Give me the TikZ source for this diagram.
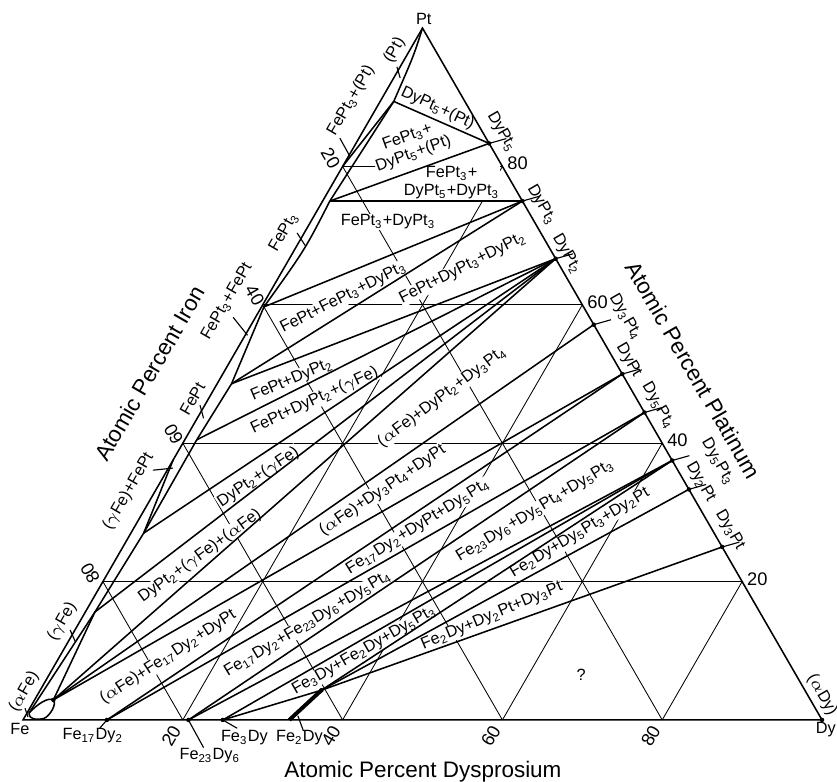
\documentclass[tikz,border=0pt]{standalone}
\usepackage{fontspec}
\setmainfont{Liberation Sans}
\newcommand{\ind}[1]{\textsubscript{#1}}

\begin{document}
\begin{tikzpicture}[x={(0.1cm,0cm)},y={(0.05cm,0.0866cm)},
  grille/.style={line width=0.3pt},
  phase/.style={line width=0.55pt},
  fin/.style={line width=0.4pt},
  etiq/.style={font=\fontsize{5.8}{6.4}\selectfont,fill=white,inner sep=0.3pt},
  nom/.style={font=\fontsize{5.8}{6.4}\selectfont,inner sep=0.3pt},
  grad/.style={font=\fontsize{6.5}{7}\selectfont,inner sep=0.3pt},
  titre/.style={font=\fontsize{8}{9.6}\selectfont}]
\useasboundingbox (-0.288cm,-0.776cm) rectangle (10.188cm,9.011cm);

% sommets (x = %Dy, y = %Pt)
\coordinate (Fe) at (0,0);
\coordinate (Dy) at (100,0);
\coordinate (Pt) at (0,100);

% composés côté Dy-Pt
\coordinate (DyPt5) at (16.67,83.33);
\coordinate (DyPt3) at (25,75);
\coordinate (DyPt2) at (33.33,66.67);
\coordinate (Dy3Pt4) at (42.86,57.14);
\coordinate (DyPt) at (50,50);
\coordinate (Dy5Pt4) at (55.56,44.44);
\coordinate (Dy5Pt3) at (62.5,37.5);
\coordinate (Dy2Pt) at (66.67,33.33);
\coordinate (Dy3Pt) at (75,25);

% composés côté Fe-Dy
\coordinate (Fe17Dy2) at (10.5,0);
\coordinate (Fe23Dy6) at (20.7,0);
\coordinate (Fe3Dy) at (25,0);
\coordinate (Fe2Dy) at (33.33,0);
\coordinate (Fe2DyB) at (35.2,4.3);

% limites des phases côté Fe-Pt
\coordinate (ptA) at (1.7,89.4);
\coordinate (ptB) at (0.9,75);
\coordinate (ptC) at (0.3,59.7);
\coordinate (ptE) at (1.8,48.6);
\coordinate (ptF) at (1.5,40.5);
\coordinate (ptG) at (1.6,27);
\coordinate (ptH) at (1.2,15.6);
\coordinate (ptV) at (2.35,2.9);
\coordinate (ptL) at (0.25,1);

% grille
\foreach \v in {20,40,60,80} {
  \draw[grille] (0,\v) -- ({100-\v},\v);
  \draw[grille] (\v,0) -- (\v,{100-\v});
  \draw[grille] (\v,0) -- (0,\v);
}

% graduations
\foreach \v in {20,40,60,80} {
  \node[grad,rotate=60] (gD\v) at ({\v-0.3},-2.3) {\v};
  \node[grad] (gP\v) at ({101.7-\v},{\v+0.4}) {\v};
}
\node[grad,rotate=-60] (gF20) at (-2.1,81.2) {20};
\node[grad,rotate=-60] (gF40) at (-1.7,61.4) {40};
\node[grad,rotate=120] (gF60) at (-1.8,41.3) {60};
\node[grad,rotate=120] (gF80) at (-2.2,21.2) {80};

% titres des axes
\node[titre,rotate=60] (axFe) at (-9.2,50.1) {Atomic Percent Iron};
\node[titre,rotate=-60] (axPt) at (58.6,50.6) {Atomic Percent Platinum};
\node[titre] (axDy) at (53.8,-7.5) {Atomic Percent Dysprosium};

% sommets et composés
\node[nom] (tPt) at (-0.5,101.3) {Pt};
\node[nom] (tFe) at (0.27,-1.3) {Fe};
\node[nom] (tDy) at (101.2,-1.45) {Dy};
\node[nom,rotate=-60] (taDy) at (98.2,3.6) {($\alpha$Dy)};
\node[nom,rotate=-60] (tDyPt5) at (17.4,85) {DyPt\ind{5}};
\node[nom,rotate=-60] (tDyPt3) at (27.7,74.4) {DyPt\ind{3}};
\node[nom,rotate=-60] (tDyPt2) at (34.4,67.3) {DyPt\ind{2}};
\node[nom,rotate=-60] (tDy3Pt4) at (46.3,58.2) {Dy\ind{3}Pt\ind{4}};
\node[nom,rotate=-60] (tDyPt) at (49.8,52) {DyPt};
\node[nom,rotate=-60] (tDy5Pt4) at (56.8,45.4) {Dy\ind{5}Pt\ind{4}};
\node[nom,rotate=-60] (tDy5Pt3) at (68.3,37.3) {Dy\ind{5}Pt\ind{3}};
\node[nom,rotate=-60] (tDy2Pt) at (67.6,34.4) {Dy\ind{2}Pt};
\node[nom,rotate=-60] (tDy3Pt) at (74.7,27.5) {Dy\ind{3}Pt};
\node[nom] (tFe17Dy2) at (9.9,-2.3) {Fe\ind{17}Dy\ind{2}};
\node[nom] (tFe23Dy6) at (26,-5.2) {Fe\ind{23}Dy\ind{6}};
\node[nom] (tFe3Dy) at (29,-2.6) {Fe\ind{3}Dy};
\node[nom] (tFe2Dy) at (35.9,-2.6) {Fe\ind{2}Dy};

% phases le long de Fe-Pt
\node[nom,rotate=60] (tPtss) at (-1.9,96.8) {(Pt)};
\node[nom,rotate=60] (tFePt3Pt) at (-3.7,89.5) {FePt\ind{3}+(Pt)};
\node[nom,rotate=60] (tFePt3) at (-2.6,70.5) {FePt\ind{3}};
\node[nom,rotate=60] (tFePt3FePt) at (-4.7,60.5) {FePt\ind{3}+FePt};
\node[nom,rotate=60] (tFePt) at (-2.0,46.4) {FePt};
\node[nom,rotate=60] (tgFeFePt) at (-3.3,33) {($\gamma$Fe)+FePt};
\node[nom,rotate=60] (tgFe) at (-2.2,14.2) {($\gamma$Fe)};
\node[nom,rotate=60] (taFe) at (-1.9,4.05) {($\alpha$Fe)};

% domaines ternaires
\node[etiq,rotate=-25] (r1) at (7.7,88.4) {DyPt\ind{5}+(Pt)};
\node[etiq,rotate=20,align=center] (r2) at (7.0,83.0) {FePt\ind{3}+\\DyPt\ind{5}+(Pt)};
\node[etiq,align=center] (r3) at (14.8,77.7) {FePt\ind{3}+\\DyPt\ind{5}+DyPt\ind{3}};
\node[etiq] (r4) at (9.7,72) {FePt\ind{3}+DyPt\ind{3}};
\node[etiq,rotate=27] (r5) at (9.6,61) {FePt+FePt\ind{3}+DyPt\ind{3}};
\node[etiq,rotate=27] (r6) at (22.4,65.3) {FePt+DyPt\ind{3}+DyPt\ind{2}};
\node[etiq,rotate=23] (r7) at (9.1,49.1) {FePt+DyPt\ind{2}};
\node[etiq,rotate=25] (r8) at (13.4,46.2) {FePt+DyPt\ind{2}+($\gamma$Fe)};
\node[etiq,rotate=34] (r9) at (11.9,35.1) {DyPt\ind{2}+($\gamma$Fe)};
\node[etiq,rotate=36] (r10) at (10.3,23.7) {DyPt\ind{2}+($\gamma$Fe)+($\alpha$Fe)};
\node[etiq,rotate=37] (r11) at (29.1,46.7) {($\alpha$Fe)+DyPt\ind{2}+Dy\ind{3}Pt\ind{4}};
\node[etiq,rotate=34] (r12) at (28.4,33.2) {($\alpha$Fe)+Dy\ind{3}Pt\ind{4}+DyPt};
\node[etiq,rotate=33] (r13) at (13.6,9.1) {($\alpha$Fe)+Fe\ind{17}Dy\ind{2}+DyPt};
\node[etiq,rotate=32] (r14) at (35.5,27.9) {Fe\ind{17}Dy\ind{2}+DyPt+Dy\ind{5}Pt\ind{4}};
\node[etiq,rotate=31] (r15) at (28.7,13.9) {Fe\ind{17}Dy\ind{2}+Fe\ind{23}Dy\ind{6}+Dy\ind{5}Pt\ind{4}};
\node[etiq,rotate=31.5] (r16) at (49,30.2) {Fe\ind{23}Dy\ind{6}+Dy\ind{5}Pt\ind{4}+Dy\ind{5}Pt\ind{3}};
\node[etiq,rotate=30] (r17) at (37.7,10) {Fe\ind{3}Dy+Fe\ind{2}Dy+Dy\ind{5}Pt\ind{3}};
\node[etiq,rotate=31] (r18) at (56.2,27) {Fe\ind{2}Dy+Dy\ind{5}Pt\ind{3}+Dy\ind{2}Pt};
\node[etiq,rotate=23] (r19) at (51.2,15) {Fe\ind{2}Dy+Dy\ind{2}Pt+Dy\ind{3}Pt};
\node[nom] (r20) at (66.6,6.5) {?};

% triangle
\draw[phase] (Fe) -- (Dy) -- (Pt) -- cycle;

% limites près de Fe-Pt
\draw[phase] (Pt) .. controls (0.9,96) .. (ptA) -- (ptB)
  .. controls (1.3,68) .. (ptC) -- (ptE) -- (ptF) -- (ptG) -- (ptH) -- (ptL);
\draw[phase] (ptA) -- (0,80);
\draw[phase] (ptG) -- (0,37.6);
\draw[phase] (ptH) -- (ptV);
\draw[phase] (ptL) .. controls (0.8,0) and (1.6,0) .. (2.5,0.2)
  .. controls (3.1,0.6) and (3.1,2.3) .. (ptV)
  .. controls (1.5,3.3) and (0.7,2.4) .. (ptL);

% conodes
\foreach \a/\b in {ptA/DyPt5, ptB/DyPt5, ptB/DyPt3, ptC/DyPt3, ptE/DyPt3,
  ptE/DyPt2, ptF/DyPt2, ptG/DyPt2, ptH/DyPt2, ptV/DyPt2, ptV/Dy3Pt4,
  ptV/DyPt, Fe17Dy2/DyPt, Fe17Dy2/Dy5Pt4, Fe23Dy6/Dy5Pt4, Fe23Dy6/Dy5Pt3,
  Fe3Dy/Dy5Pt3, Fe3Dy/Fe2DyB, Fe2DyB/Dy5Pt3, Fe2DyB/Dy2Pt, Fe2DyB/Dy3Pt}
  \draw[phase] (\a) -- (\b);
\draw[line width=1.4pt] (Fe2Dy) -- (Fe2DyB);

% repères des composés
\foreach \c in {DyPt5,DyPt3,DyPt2,Dy3Pt4,DyPt,Dy5Pt4,Dy5Pt3,Dy2Pt,Dy3Pt}
  \draw[fin] (\c) -- ++(1.8,0.7);
\draw[fin] (Fe17Dy2) -- ++(-0.3,-1.2);
\draw[fin] (Fe23Dy6) -- ++(3.9,-4);
\draw[fin] (Fe3Dy) -- ++(2.4,-1.2);
\draw[fin] (34.1,0.6) -- (35.9,-1.6);
\draw[fin] (-0.4,94.4) -- (0.8,92.8);
\draw[fin] (-2.4,84.1) -- (0.25,81.4);
\draw[fin] (-0.9,70.4) -- (1.0,68.6);
\draw[fin] (-2.8,58.2) -- (0.3,55.6);
\draw[fin] (-0.6,45.5) -- (0.8,43.6);
\draw[fin] (-1.8,36.1) -- (0.56,36.4);
\draw[fin] (-0.6,13.0) -- (0.9,11.3);
\draw[fin] (-0.6,1.7) -- (0.4,0.43);

% points
\foreach \c in {DyPt5,DyPt3,DyPt2,Dy3Pt4,DyPt,Dy5Pt4,Dy5Pt3,Dy2Pt,Dy3Pt,
  Fe17Dy2,Fe23Dy6,Fe3Dy,Fe2DyB,ptV,Dy}
  \fill (\c) circle (0.8pt);
\end{tikzpicture}
\end{document}
